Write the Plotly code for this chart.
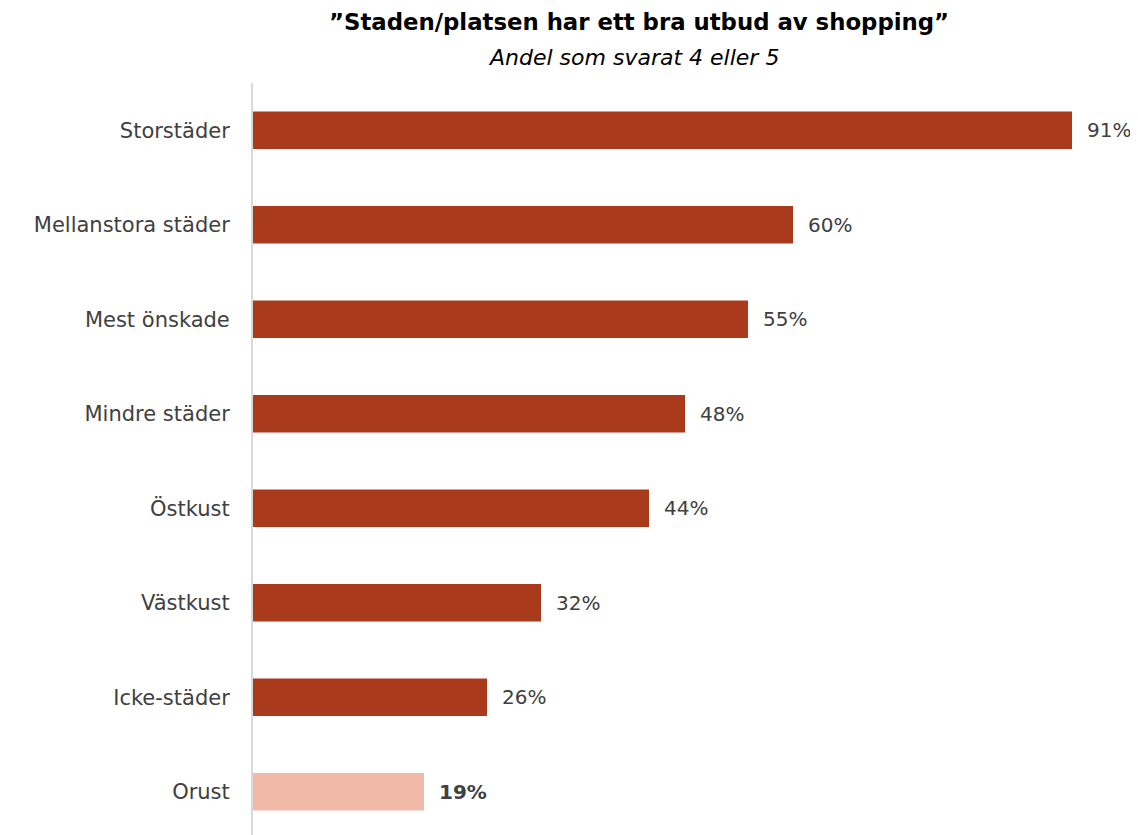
import plotly.graph_objects as go

categories = ["Storstäder", "Mellanstora städer", "Mest önskade", "Mindre städer",
              "Östkust", "Västkust", "Icke-städer", "Orust"]
values = [91, 60, 55, 48, 44, 32, 26, 19]
labels = ["91%", "60%", "55%", "48%", "44%", "32%", "26%", "<b>19%</b>"]
colors = ["#A93B1C"] * 7 + ["#F1B9A7"]

FONT = "DejaVu Sans"
TXT = "#404040"
OFF = 8  # default page body margin

fig = go.Figure(go.Bar(
    x=values, y=categories, orientation="h",
    marker=dict(color=colors, line=dict(width=0)),
    width=0.395, hoverinfo="skip",
))

for c, v, t in zip(categories, values, labels):
    fig.add_annotation(x=v, y=c, text=t, showarrow=False, xanchor="left",
                       xshift=13, font=dict(family=FONT, size=20, color=TXT))

TOP = 83 - OFF
fig.add_annotation(xref="paper", yref="paper", x=0.4376, y=1, yshift=TOP - (22 - OFF),
                   text="<b>”Staden/platsen har ett bra utbud av shopping”</b>",
                   showarrow=False, xanchor="center", yanchor="middle",
                   font=dict(family=FONT, size=22.8, color="#000000"))
fig.add_annotation(xref="paper", yref="paper", x=0.431, y=1, yshift=TOP - (57 - OFF),
                   text="<i>Andel som svarat 4 eller 5</i>",
                   showarrow=False, xanchor="center", yanchor="middle",
                   font=dict(family=FONT, size=22, color="#000000"))

fig.update_layout(
    width=1138 - OFF, height=835 - OFF,
    margin=dict(l=253 - OFF, r=3, t=TOP, b=0),
    paper_bgcolor="white", plot_bgcolor="white",
    showlegend=False,
    xaxis=dict(range=[0, 98], visible=False),
    yaxis=dict(range=[7.458, -0.5], showline=True, linecolor="#D9D9D9", linewidth=2,
               ticks="", showgrid=False, zeroline=False, ticklabelstandoff=17,
               tickfont=dict(family=FONT, size=21, color=TXT)),
)

fig.write_html("out.html")
